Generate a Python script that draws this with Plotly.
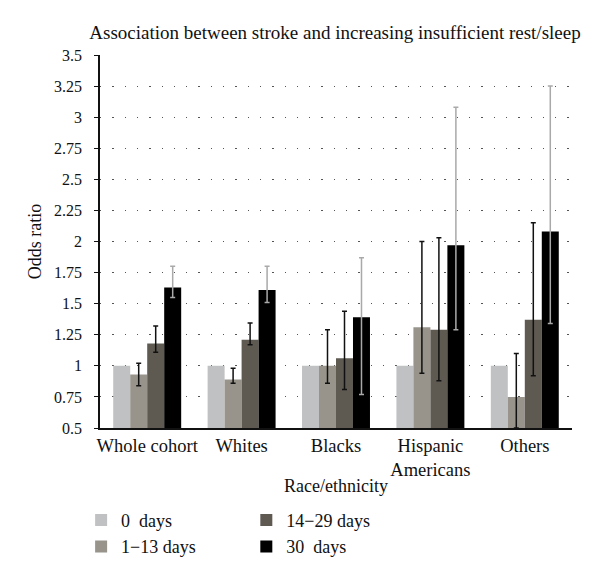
import plotly.graph_objects as go

categories = ["Whole cohort", "Whites", "Blacks", "Hispanic<br>Americans", "Others"]
series_names = ["0  days", "1\u221213 days", "14\u221229 days", "30  days"]

or_0 = [1.0, 1.0, 1.0, 1.0, 1.0]
or_1_13 = [0.93, 0.89, 1.0, 1.31, 0.75]
or_14_29 = [1.18, 1.21, 1.06, 1.29, 1.37]
or_30 = [1.63, 1.61, 1.39, 1.97, 2.08]

ci_hi_1_13 = [1.02, 0.98, 1.29, 2.0, 1.10]
ci_lo_1_13 = [0.84, 0.86, 0.86, 0.94, 0.50]
ci_hi_14_29 = [1.32, 1.345, 1.44, 2.03, 2.15]
ci_lo_14_29 = [1.11, 1.17, 0.81, 0.88, 0.92]
ci_hi_30 = [1.80, 1.80, 1.87, 3.08, 3.25]
ci_lo_30 = [1.55, 1.51, 0.77, 1.29, 1.34]

y_ticks = [0.5, 0.75, 1, 1.25, 1.5, 1.75, 2, 2.25, 2.5, 2.75, 3, 3.25, 3.5]
y_tick_labels = ["0.5", "0.75", "1", "1.25", "1.5", "1.75", "2", "2.25", "2.5", "2.75", "3", "3.25", "3.5"]

colors = ["#c0c1c3", "#98948b", "#5e5a52", "#000000"]
FONT = "Liberation Serif"

fig = go.Figure()

def add(name, vals, hi, lo, color, errcolor, legend):
    err = None
    if hi is not None:
        err = dict(type="data", symmetric=False,
                   array=[h - v for h, v in zip(hi, vals)],
                   arrayminus=[v - l for v, l in zip(vals, lo)],
                   color=errcolor, thickness=1.5, width=2.5)
    fig.add_trace(go.Bar(x=categories, y=vals, name=name, marker_color=color,
                         marker_line_width=0, error_y=err, legend=legend,
                         legendgroup=name))

add(series_names[0], or_0, None, None, colors[0], None, "legend")
add(series_names[1], or_1_13, ci_hi_1_13, ci_lo_1_13, colors[1], "#111111", "legend")
add(series_names[2], or_14_29, ci_hi_14_29, ci_lo_14_29, colors[2], "#111111", "legend2")
add(series_names[3], or_30, ci_hi_30, ci_lo_30, colors[3], "#a9a9a9", "legend2")

leg_common = dict(font=dict(family=FONT, size=18, color="#111"), bgcolor="rgba(0,0,0,0)",
                  orientation="v", itemwidth=30, tracegroupgap=0,
                  yanchor="top", xanchor="left")

fig.update_layout(
    width=600, height=577,
    margin=dict(l=92, r=36, t=47, b=157),
    paper_bgcolor="white", plot_bgcolor="white",
    font=dict(family=FONT, size=16, color="#111"),
    title=dict(text="Association between stroke and increasing insufficient rest/sleep",
               x=0.545, xanchor="center", y=(577 - 24) / 577, yanchor="middle",
               font=dict(family=FONT, size=19, color="#111")),
    barmode="group", bargap=0.28, bargroupgap=0,
    legend=dict(x=-0.04, y=-0.198, **leg_common),
    legend2=dict(x=0.31, y=-0.198, **leg_common),
    xaxis=dict(showline=True, linecolor="#111", linewidth=1.5, ticks="",
               title=dict(text="Race/ethnicity", standoff=0,
                          font=dict(family=FONT, size=18)),
               tickfont=dict(family=FONT, size=18.5)),
    yaxis=dict(range=[0.5, 3.5], tickvals=y_ticks, ticktext=y_tick_labels,
               showline=True, linecolor="#111", linewidth=1.5,
               ticks="outside", ticklen=4, tickcolor="#111", tickwidth=1,
               ticklabelstandoff=9,
               showgrid=True, gridcolor="#555", gridwidth=1.3, griddash="1.3px,11px",
               zeroline=False,
               title=dict(text="Odds ratio", standoff=8, font=dict(family=FONT, size=18)),
               tickfont=dict(family=FONT, size=16)),
)

fig.write_html("out.html")
